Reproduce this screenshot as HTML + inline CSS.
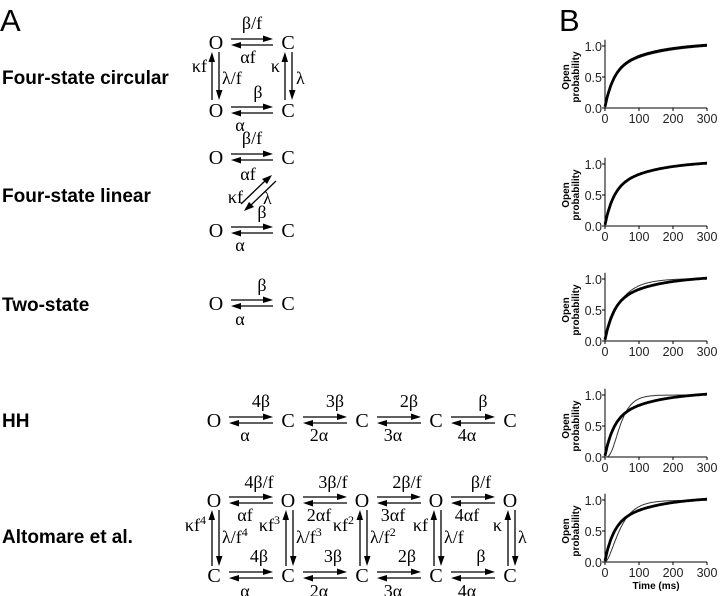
<!DOCTYPE html>
<html><head><meta charset="utf-8"><style>
html,body{margin:0;padding:0;background:#fff;}
svg{display:block;}
.s{font-family:"Liberation Serif",serif;font-size:20px;fill:#000;}
.l{font-family:"Liberation Serif",serif;font-size:18px;fill:#000;}
.b{font-family:"Liberation Sans",sans-serif;font-weight:bold;font-size:19px;fill:#000;}
.t{font-family:"Liberation Sans",sans-serif;font-size:12.5px;fill:#222;}
.y{font-family:"Liberation Sans",sans-serif;font-weight:bold;font-size:10px;fill:#000;}
</style></head><body>
<svg id="g" width="720" height="596" viewBox="0 0 720 596" xmlns="http://www.w3.org/2000/svg">
<text x="0" y="31" font-family="Liberation Sans, sans-serif" font-size="31">A</text>
<text x="559" y="31" font-family="Liberation Sans, sans-serif" font-size="31">B</text>
<text class="b" x="2" y="84">Four-state circular</text>
<text class="b" x="2" y="202">Four-state linear</text>
<text class="b" x="2" y="311">Two-state</text>
<text class="b" x="2" y="427">HH</text>
<text class="b" x="2" y="543">Altomare et al.</text>
</svg>
<script>
var g=document.getElementById('g'),NS='http://www.w3.org/2000/svg';
function el(n,a,txt){var e=document.createElementNS(NS,n);for(var k in a)e.setAttribute(k,a[k]);if(txt!==undefined)e.innerHTML=txt;g.appendChild(e);return e;}
function T(x,y,s,cls,anc){return el('text',{x:x,y:y,'class':cls||'l','text-anchor':anc||'middle'},s);}
function sup(a,b){return a+'<tspan font-size="12" dy="-7">'+b+'</tspan>';}
function harr(x1,x2,cy){
 var y1=cy-3,y2=cy+3;
 el('line',{x1:x1,y1:y1,x2:x2-8,y2:y1,stroke:'#000','stroke-width':1.3});
 el('polygon',{points:(x2)+','+y1+' '+(x2-10)+','+(y1-3.5)+' '+(x2-10)+','+(y1+3)});
 el('line',{x1:x1+8,y1:y2,x2:x2,y2:y2,stroke:'#000','stroke-width':1.3});
 el('polygon',{points:(x1)+','+y2+' '+(x1+10)+','+(y2-3)+' '+(x1+10)+','+(y2+3.5)});
}
function varr(x,ya,yb){
 el('line',{x1:x,y1:ya+8,x2:x,y2:yb,stroke:'#000','stroke-width':1.3});
 el('polygon',{points:x+','+ya+' '+(x-3.5)+','+(ya+10)+' '+(x+3)+','+(ya+10)});
 var x2=x+7;
 el('line',{x1:x2,y1:ya,x2:x2,y2:yb-8,stroke:'#000','stroke-width':1.3});
 el('polygon',{points:x2+','+yb+' '+(x2-3)+','+(yb-10)+' '+(x2+3.5)+','+(yb-10)});
}
function st(x,cy,s){T(x,cy+7,s,'s');}
st(216,42,'O');st(288,42,'C');harr(231,273,42);T(252,29,'β/f');T(248,63,'αf');
st(216,110,'O');st(288,110,'C');harr(231,273,110);T(258,98,'β');T(240,131,'α');
varr(212,52,100);varr(285,52,100);
T(207,72,'κf','l','end');T(222,84,'λ/f','l','start');T(280,72,'κ','l','end');T(296,84,'λ','l','start');
st(216,157,'O');st(288,157,'C');harr(231,273,157);T(252,144,'β/f');T(248,180,'αf');
st(216,230,'O');st(288,230,'C');harr(231,273,230);T(262,218,'β');T(240,251,'α');
el('line',{x1:241,y1:204,x2:266,y2:180,stroke:'#000','stroke-width':1.3});
el('polygon',{points:'272,175 262,179 267,184'});
el('line',{x1:251,y1:205,x2:276,y2:181,stroke:'#000','stroke-width':1.3});
el('polygon',{points:'244,211 254,207 249,202'});
T(243,203,'κf','l','end');T(263,204,'λ','l','start');
st(216,303,'O');st(288,303,'C');harr(231,273,303);T(262,291,'β');T(240,325,'α');
var cx=[214,288,362,436,510];
var tops=['4β','3β','2β','β'],bots=['α','2α','3α','4α'];
cx.forEach(function(x,i){st(x,420,i?'C':'O');});
for(var i=0;i<4;i++){harr(cx[i]+15,cx[i+1]-15,420);T((cx[i]+cx[i+1])/2+10,407,tops[i]);T((cx[i]+cx[i+1])/2-6,441,bots[i]);}
var at=['4β/f','3β/f','2β/f','β/f'],ab=['αf','2αf','3αf','4αf'];
cx.forEach(function(x){st(x,500,'O');st(x,575,'C');varr(x-2,510,566);});
for(var i=0;i<4;i++){var m=(cx[i]+cx[i+1])/2;harr(cx[i]+15,cx[i+1]-15,500);harr(cx[i]+15,cx[i+1]-15,575);
 T(m+8,488,at[i]);T(m-6,521,ab[i]);T(m+8,562,tops[i]);T(m-6,597,bots[i]);}
var kl=[sup('κf','4'),sup('κf','3'),sup('κf','2'),'κf','κ'],ll=[sup('λ/f','4'),sup('λ/f','3'),sup('λ/f','2'),'λ/f','λ'];
cx.forEach(function(x,i){T(x-8,531,kl[i],'l','end');T(x+8,543,ll[i],'l','start');});
var Y0=[108,226,341,457,562],X0=605,X1=707,H=62;
function px(t){return X0+(X1-X0)*t/300;}
function path(f,y0){var d='';for(var t=0;t<=300;t+=2){d+=(t?'L':'M')+px(t).toFixed(1)+','+(y0-H*f(t)).toFixed(1);}return d;}
var data=function(t){return 1.04*(1-0.55*Math.exp(-t/25)-0.45*Math.exp(-t/130))+0.02;};
var fits=[
 function(t){return 1.03*(1-0.55*Math.exp(-t/26)-0.45*Math.exp(-t/140))+0.02;},
 function(t){return 1.07*(1-0.55*Math.exp(-t/26)-0.45*Math.exp(-t/150))+0.02;},
 function(t){return 1.0*(1-Math.exp(-t/45))*0.98+0.02*t/300+0.01;},
 function(t){return Math.pow(1-Math.exp(-t/24),4);},
 function(t){return Math.pow(1-Math.exp(-t/34),2)*0.99+0.005;}
];
Y0.forEach(function(y0,k){
 el('path',{d:'M'+X0+','+(y0-H*1.1)+'L'+X0+','+y0+'L'+X1+','+y0,fill:'none',stroke:'#000','stroke-width':1});
 [0,0.5,1].forEach(function(v){var yy=y0-H*v;el('line',{x1:X0-3,y1:yy,x2:X0,y2:yy,stroke:'#000'});T(X0-3,yy+5,v.toFixed(1),'t','end');});
 [0,100,200,300].forEach(function(v){el('line',{x1:px(v),y1:y0,x2:px(v),y2:y0+3,stroke:'#000'});T(px(v),y0+15,v,'t');});
 el('path',{d:path(fits[k],y0),fill:'none',stroke:'#333','stroke-width':1});
 el('path',{d:path(data,y0),fill:'none',stroke:'#000','stroke-width':2.8});
 var tx=el('text',{'class':'y','text-anchor':'middle',transform:'translate(570,'+(y0-H/2)+') rotate(-90)'});
 tx.innerHTML='<tspan x="0" dy="-1">Open</tspan><tspan x="0" dy="10">probability</tspan>';
});
T(656,589,'Time (ms)','y');
g.lastChild.setAttribute('font-size','11');
</script>
</body></html>
